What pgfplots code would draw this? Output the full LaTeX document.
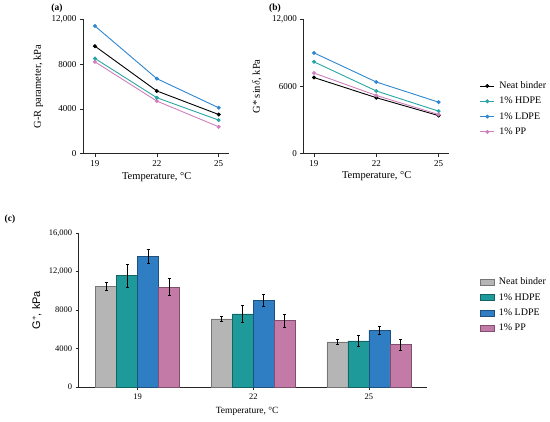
\documentclass[border=0pt]{standalone}
\usepackage{fontspec}
\setmainfont{Liberation Serif}
\newfontfamily\sansf{Liberation Sans}
\usepackage{pgfplots}
\pgfplotsset{compat=1.18}
\definecolor{lNeat}{HTML}{000000}
\definecolor{lHD}{HTML}{2AA5A5}
\definecolor{lLD}{HTML}{2F86D1}
\definecolor{lPP}{HTML}{D07FBD}
\definecolor{bNeat}{HTML}{B5B5B5}
\definecolor{bHD}{HTML}{1F9A9A}
\definecolor{bLD}{HTML}{2F7DC3}
\definecolor{bPP}{HTML}{C47AA7}
\pgfplotsset{
  common/.style={
    scale only axis,
    axis x line*=bottom, axis y line*=left,
    axis line style={-, line width=0.6pt, black!85},
    tick align=outside,
    major tick length=3pt,
    tick style={line width=0.6pt, black!85},
    scaled y ticks=false, scaled x ticks=false,
    /pgf/number format/assume math mode=true,
    ticklabel style={font=\fontsize{9}{10}\selectfont},
    label style={font=\fontsize{10.5}{12}\selectfont},
    clip=false,
  },
  lineplot/.style={
    common,
    xtick={19,22,25}, xticklabels={19,22,25},
    ymin=0, ymax=12000,
    every axis plot/.append style={line width=0.9pt, mark=*, mark size=1.5pt},
  },
}
\begin{document}
\begin{tikzpicture}
\path[use as bounding box] (0pt,0pt) rectangle (550pt,422pt);

% panel labels
\node[font=\bfseries\fontsize{9.5}{11}\selectfont] at (57pt,414pt) {(a)};
\node[font=\bfseries\fontsize{9.5}{11}\selectfont] at (275pt,414pt) {(b)};
\node[font=\bfseries\fontsize{9.5}{11}\selectfont] at (10pt,203pt) {(c)};

% (a)
\begin{axis}[lineplot,
  at={(83pt,268.3pt)}, anchor=south west,
  width=146pt, height=134.4pt,
  xmin=18.42, xmax=25.5,
  ytick={0,4000,8000,12000}, yticklabels={0,4000,8000,{12,000}},
  ylabel={G-R parameter, kPa},
  ylabel style={at={(axis description cs:-0.305,0.5)}, anchor=center},
  xlabel={Temperature, °C},
  xlabel style={at={(axis description cs:0.505,-0.173)}, anchor=center},
]
\addplot[color=lPP] coordinates {(19,8200) (22,4700) (25,2400)};
\addplot[color=lHD] coordinates {(19,8500) (22,5000) (25,3000)};
\addplot[color=lNeat] coordinates {(19,9600) (22,5600) (25,3500)};
\addplot[color=lLD] coordinates {(19,11400) (22,6700) (25,4100)};
\end{axis}

% (b)
\begin{axis}[lineplot,
  at={(303.3pt,268.3pt)}, anchor=south west,
  width=145.7pt, height=134.4pt,
  xmin=18.485, xmax=25.5,
  ytick={0,6000,12000}, yticklabels={0,6000,{12,000}},
  ylabel={G* sin$\delta$, kPa},
  ylabel style={at={(axis description cs:-0.318,0.5)}, anchor=center},
  xlabel={Temperature, °C},
  xlabel style={at={(axis description cs:0.504,-0.17)}, anchor=center},
  legend style={draw=none, fill=none, at={(1.19,0.333)}, anchor=west,
    font=\fontsize{10}{12}\selectfont,
    nodes={inner sep=1pt, text height=7pt, text depth=2pt}, row sep=4.3pt},
  legend cell align=left,
  legend image code/.code={\path[draw=none,fill=none] (0pt,0pt) -- (18pt,0pt);\draw[mark repeat=2,mark phase=2,#1] plot coordinates {(0pt,0pt) (7pt,0pt) (14pt,0pt)};},
]
\addplot[color=lNeat] coordinates {(19,6800) (22,5000) (25,3400)};
\addplot[color=lHD] coordinates {(19,8200) (22,5600) (25,3800)};
\addplot[color=lLD] coordinates {(19,9000) (22,6400) (25,4600)};
\addplot[color=lPP] coordinates {(19,7200) (22,5200) (25,3500)};
\legend{Neat binder, 1\% HDPE, 1\% LDPE, 1\% PP}
\end{axis}

% (c)
\begin{axis}[common,
  at={(78.7pt,35pt)}, anchor=south west,
  width=348pt, height=153.7pt,
  xmin=-0.51, xmax=2.5,
  ymin=0, ymax=16000,
  xtick={0,1,2}, xticklabels={19,22,25},
  ytick={0,4000,8000,12000,16000}, yticklabels={0,4000,8000,{12,000},{16,000}},
  ticklabel style={font=\fontsize{8.5}{10}\selectfont},
  label style={font=\fontsize{9.5}{11}\selectfont},
  ylabel={{\sansf\fontsize{11}{13}\selectfont G$^{*}$, kPa}},
  ylabel style={at={(axis description cs:-0.12,0.5)}, anchor=center},
  xlabel={Temperature, °C},
  xlabel style={at={(axis description cs:0.484,-0.16)}, anchor=center},
  ybar=0pt, bar width=21pt,
  legend style={draw=none, fill=none, at={(1.143,0.532)}, anchor=west,
    font=\fontsize{10}{12}\selectfont,
    nodes={inner sep=1pt, text height=7pt, text depth=2pt}, row sep=4.4pt},
  legend cell align=left,
  legend image code/.code={\path[draw=none,fill=none] (0pt,0pt) -- (18pt,0pt);\draw[#1] (0pt,-3pt) rectangle (14pt,3pt);},
  every axis plot/.append style={line width=0.5pt,
    error bars/y dir=both, error bars/y explicit,
    error bars/error bar style={line width=0.7pt, black},
    error bars/error mark options={rotate=90, mark size=1.6pt, line width=0.7pt, black}},
]
\addplot[fill=bNeat, draw=bNeat!65!black, bar shift=-31.5pt] coordinates {(0,10500) +- (0,400) (1,7100) +- (0,300) (2,4700) +- (0,300)};
\addplot[fill=bHD, draw=bHD!65!black, bar shift=-10.5pt] coordinates {(0,11600) +- (0,1200) (1,7600) +- (0,900) (2,4800) +- (0,600)};
\addplot[fill=bLD, draw=bLD!65!black, bar shift=10.5pt] coordinates {(0,13600) +- (0,700) (1,9000) +- (0,600) (2,5900) +- (0,450)};
\addplot[fill=bPP, draw=bPP!65!black, bar shift=31.5pt] coordinates {(0,10400) +- (0,900) (1,6900) +- (0,700) (2,4400) +- (0,550)};
\legend{Neat binder, 1\% HDPE, 1\% LDPE, 1\% PP}
\end{axis}
\end{tikzpicture}
\end{document}
